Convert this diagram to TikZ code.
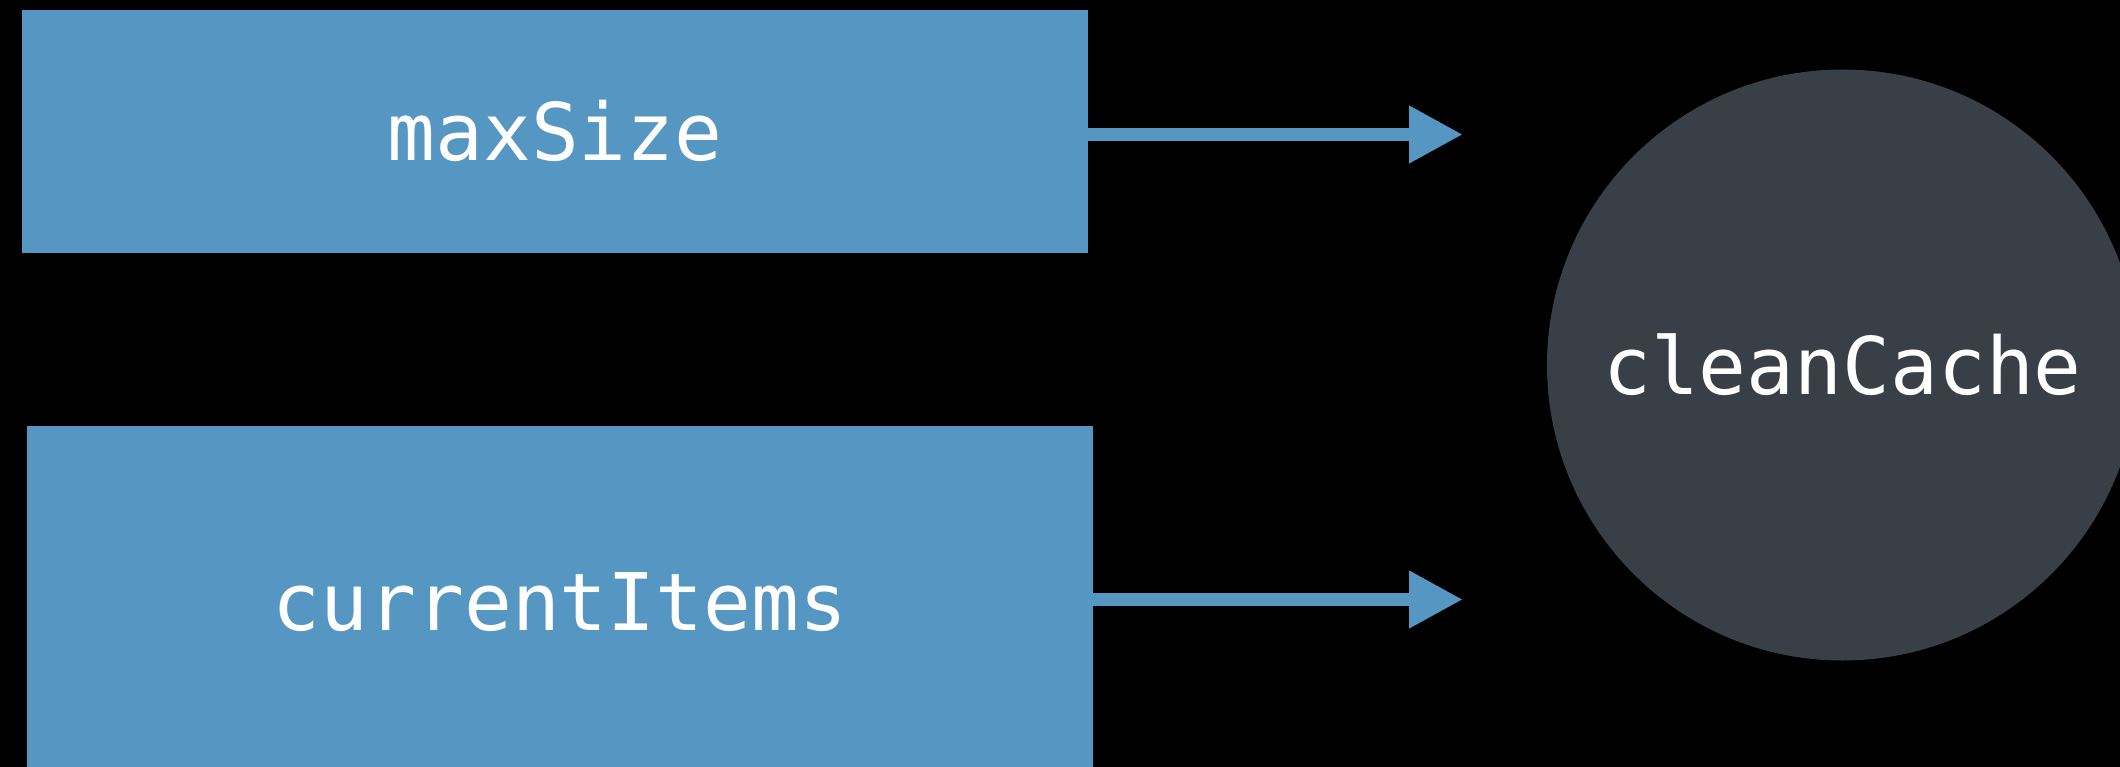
\documentclass[tikz,border=0pt]{standalone}
\usepackage{fontspec}
\newfontfamily\codefont{DejaVu Sans Mono}
\usetikzlibrary{arrows.meta}
\definecolor{boxblue}{RGB}{85,151,194}
\definecolor{circgray}{RGB}{56,63,71}
\begin{document}
\begin{tikzpicture}[x=1pt,y=-1pt,
  label/.style={text=white, font=\codefont\fontsize{79.5}{90}\selectfont,
    text height=58pt, text depth=0pt, inner sep=0pt},
  varbox/.style={label, rectangle, fill=boxblue, draw=none},
  funcnode/.style={label, circle, fill=circgray, draw=none, minimum size=591pt},
  flow/.style={draw=boxblue, line width=13.5pt,
    -{Triangle[length=54pt, width=54pt]}}]
  % canvas
  \fill[black] (0,0) rectangle (2120,767);
  \clip (0,0) rectangle (2120,767);
  % inputs
  \node[varbox, minimum width=1066pt, minimum height=243pt] (maxsize) at (555,131.5) {maxSize};
  \node[varbox, minimum width=1066pt, minimum height=351pt] (items) at (560,601.5) {currentItems};
  % function
  \node[funcnode] (clean) at (1842.5,365) {cleanCache};
  % arrow ends
  \coordinate (in1) at (1463,134.5);
  \coordinate (in2) at (1463,599.5);
  \draw[flow] (maxsize.east |- in1) -- (in1);
  \draw[flow] (items.east |- in2) -- (in2);
\end{tikzpicture}
\end{document}
